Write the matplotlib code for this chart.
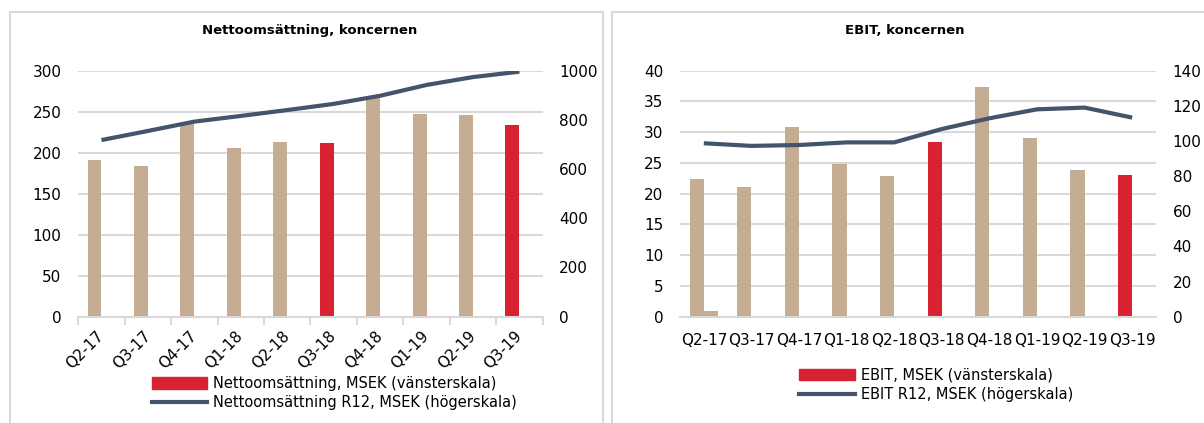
import numpy as np
import matplotlib
matplotlib.use("Agg")
import matplotlib.pyplot as plt
from matplotlib.patches import Rectangle, Patch
from matplotlib.lines import Line2D

plt.rcParams["font.family"] = ["DejaVu Sans"]

# Kvartal
quarters = ["Q2-17", "Q3-17", "Q4-17", "Q1-18", "Q2-18",
            "Q3-18", "Q4-18", "Q1-19", "Q2-19", "Q3-19"]

# Nettoomsättning (MSEK)
sales_q = [191, 184, 236, 206, 213, 212, 268, 247, 246, 234]
sales_extra = [1, 0, 0, 0, 0, 0, 0, 0, 0, 0]
sales_r12 = [718, 755, 793, 816, 840, 865, 898, 942, 974, 996]

# EBIT (MSEK)
ebit_q = [22.4, 21.1, 30.9, 24.9, 22.9, 28.4, 37.3, 29.1, 23.9, 23.0]
ebit_extra = [0.9, 0, 0, 0, 0, 0, 0, 0, 0, 0]
ebit_r12 = [98.7, 97.2, 97.7, 99.2, 99.2, 106.8, 112.9, 118.0, 119.0, 113.3]

# Kvartal som markeras i rött
highlight = ["Q3-18", "Q3-19"]

TAN = "#C4AD93"
RED = "#D82232"
LINE = "#44546A"
GRID = "#D9D9D9"

fig = plt.figure(figsize=(12.04, 4.23), dpi=100)

# ramar runt de två diagrammen
for x0, x1 in [(10, 603), (612, 1215)]:
    fig.add_artist(Rectangle((x0 / 1204, -0.1), (x1 - x0) / 1204, 1.1 - 12 / 423,
                             transform=fig.transFigure, fill=False,
                             edgecolor=GRID, lw=1.5))


def draw(pos, title, title_x, bars, extra, r12, ymax, ystep, y2max, y2step,
         rotate, bar_label, line_label, leg_pos):
    ax = fig.add_axes(pos)
    x = np.arange(len(quarters))
    colors = [RED if q in highlight else TAN for q in quarters]
    ax.bar(x - 0.15, bars, width=0.3, color=colors, zorder=2)
    ax.bar(x + 0.15, extra, width=0.3, color=TAN, zorder=2)
    ax.set_xlim(-0.5, len(quarters) - 0.5)
    ax.set_ylim(0, ymax)
    ax.set_yticks(np.arange(0, ymax + ystep / 2, ystep))
    ax.yaxis.grid(True, color=GRID, lw=1.5)
    ax.set_axisbelow(True)
    for s in ["top", "left", "right"]:
        ax.spines[s].set_visible(False)
    ax.spines["bottom"].set_color(GRID)
    ax.spines["bottom"].set_linewidth(1.5)
    ax.tick_params(axis="y", length=0, pad=12, labelsize=11)
    ax.set_xticks(x)
    if rotate:
        ax.set_xticklabels(quarters, rotation=45, ha="right", va="center",
                           rotation_mode="anchor", fontsize=11)
        ax.tick_params(axis="x", length=0, pad=12)
        ax.set_xticks(np.arange(-0.5, len(quarters), 1), minor=True)
        ax.tick_params(axis="x", which="minor", length=6, width=1.5, color=GRID)
    else:
        ax.set_xticklabels(quarters, fontsize=11)
        ax.tick_params(axis="x", length=0, pad=12)

    ax2 = ax.twinx()
    ax2.plot(x, r12, color=LINE, lw=3, solid_capstyle="butt", zorder=3)
    ax2.set_ylim(0, y2max)
    ax2.set_yticks(np.arange(0, y2max + y2step / 2, y2step))
    ax2.tick_params(axis="y", length=0, pad=12, labelsize=11)
    for s in ax2.spines.values():
        s.set_visible(False)

    fig.text(title_x, 0.929, title, ha="center", va="center",
             fontsize=9.5, fontweight="bold")

    handles = [Patch(color=RED), Line2D([], [], color=LINE, lw=3)]
    fig.legend(handles, [bar_label, line_label], loc="upper left",
               bbox_to_anchor=leg_pos, frameon=False, fontsize=10.5,
               handlelength=3.8, handleheight=0.8, handletextpad=0.4,
               labelspacing=0.3, borderpad=0, borderaxespad=0)


draw([0.065, 0.2513, 0.3857, 0.5816], "Nettoomsättning, koncernen", 0.2575,
     sales_q, sales_extra, sales_r12, 300, 50, 1000, 200, True,
     "Nettoomsättning, MSEK (vänsterskala)",
     "Nettoomsättning R12, MSEK (högerskala)", (0.126, 0.111))

draw([0.5648, 0.2513, 0.3953, 0.5816], "EBIT, koncernen", 0.7517,
     ebit_q, ebit_extra, ebit_r12, 40, 5, 140, 20, False,
     "EBIT, MSEK (vänsterskala)", "EBIT R12, MSEK (högerskala)",
     (0.664, 0.131))

fig.savefig("out.png", dpi=100)
